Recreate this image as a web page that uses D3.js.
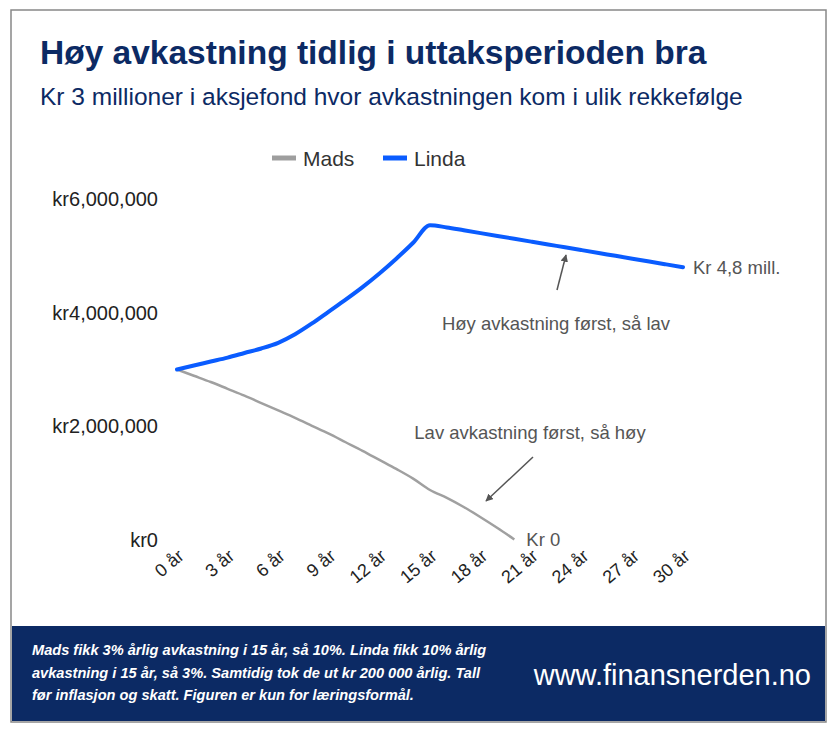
<!DOCTYPE html>
<html><head><meta charset="utf-8">
<script src="https://cdn.jsdelivr.net/npm/d3@7"></script>
<style>body{margin:0;background:#fff;font-family:Arial,"Liberation Sans",sans-serif}</style>
</head><body><div id="chart"></div>
<script>
// Data (millions kr)
const years = d3.range(0, 31);
const linda = [3.00,3.07,3.14,3.21,3.29,3.37,3.47,3.62,3.81,4.02,4.23,4.45,4.69,4.95,5.23,5.54,
  5.50,5.45,5.40,5.35,5.30,5.25,5.20,5.15,5.10,5.05,5.00,4.95,4.90,4.85,4.80];
const mads = [3.00,2.89,2.78,2.66,2.54,2.41,2.28,2.15,2.01,1.87,1.72,1.57,1.41,1.25,1.08,0.88,
  0.74,0.58,0.40,0.21,0.01];
const xTicks = d3.range(0, 31, 3);
const yTicks = [0, 2, 4, 6];
const footerLines = [
  "Mads fikk 3% årlig avkastning i 15 år, så 10%. Linda fikk 10% årlig",
  "avkastning i 15 år, så 3%. Samtidig tok de ut kr 200 000 årlig. Tall",
  "før inflasjon og skatt. Figuren er kun for læringsformål."
];

const navy = "#0c2a64";
const svg = d3.select("#chart").append("svg").attr("width", 840).attr("height", 732);

svg.append("rect").attr("x", 11).attr("y", 10).attr("width", 815).attr("height", 712)
  .attr("fill", "#fff").attr("stroke", "#888").attr("stroke-width", 1.5);

svg.append("text").attr("x", 40).attr("y", 64).attr("fill", navy)
  .style("font-size", "33.5px").style("font-weight", "bold")
  .text("Høy avkastning tidlig i uttaksperioden bra");
svg.append("text").attr("x", 40).attr("y", 105).attr("fill", navy)
  .style("font-size", "24.5px")
  .text("Kr 3 millioner i aksjefond hvor avkastningen kom i ulik rekkefølge");

// legend
const legend = [["Mads", "#9e9e9e", 272], ["Linda", "#0a5cff", 383]];
legend.forEach(([name, c, x]) => {
  svg.append("line").attr("x1", x).attr("x2", x + 24).attr("y1", 158).attr("y2", 158)
    .attr("stroke", c).attr("stroke-width", 5);
  svg.append("text").attr("x", x + 31).attr("y", 166).style("font-size", "21px")
    .attr("fill", "#333").text(name);
});

const x = d3.scaleLinear().domain([0, 30]).range([177, 683]);
const y = d3.scaleLinear().domain([0, 6]).range([540, 199]);

svg.selectAll(".ylab").data(yTicks).enter().append("text")
  .attr("x", 158).attr("y", d => y(d) + 7).attr("text-anchor", "end")
  .style("font-size", "20px").attr("fill", "#222")
  .text(d => "kr" + d3.format(",")(d * 1e6));

svg.selectAll(".xlab").data(xTicks).enter().append("text")
  .attr("transform", d => `translate(${x(d) + 8},${558}) rotate(-40)`)
  .attr("text-anchor", "end").style("font-size", "18px").attr("fill", "#222")
  .text(d => d + " år");

const line = d3.line().x((d, i) => x(years[i])).y(d => y(d)).curve(d3.curveMonotoneX);
svg.append("path").datum(mads).attr("d", line).attr("fill", "none")
  .attr("stroke", "#a0a0a0").attr("stroke-width", 2.5);
svg.append("path").datum(linda).attr("d", line).attr("fill", "none")
  .attr("stroke", "#0a5cff").attr("stroke-width", 4).attr("stroke-linecap", "round");

// annotations
svg.append("defs").append("marker").attr("id", "ah").attr("viewBox", "0 0 10 10")
  .attr("refX", 9).attr("refY", 5).attr("markerWidth", 5).attr("markerHeight", 5)
  .attr("orient", "auto").append("path").attr("d", "M0,0L10,5L0,10z").attr("fill", "#555");
svg.append("line").attr("x1", 557).attr("y1", 290).attr("x2", 566).attr("y2", 255)
  .attr("stroke", "#555").attr("stroke-width", 1.5).attr("marker-end", "url(#ah)");
svg.append("line").attr("x1", 533).attr("y1", 457).attr("x2", 486).attr("y2", 501)
  .attr("stroke", "#555").attr("stroke-width", 1.5).attr("marker-end", "url(#ah)");

const ann = [
  ["Kr 4,8 mill.", x(30) + 10, y(4.8) + 7, "start"],
  ["Kr 0", x(20) + 12, y(0) + 6, "start"],
  ["Høy avkastning først, så lav", 556, 330, "middle"],
  ["Lav avkastning først, så høy", 530, 439, "middle"]
];
ann.forEach(([t, ax, ay, anc]) => svg.append("text").attr("x", ax).attr("y", ay)
  .attr("text-anchor", anc).style("font-size", "18.5px").attr("fill", "#555").text(t));

// footer
svg.append("rect").attr("x", 12).attr("y", 626).attr("width", 813).attr("height", 95).attr("fill", navy);
svg.selectAll(".ft").data(footerLines).enter().append("text")
  .attr("x", 32).attr("y", (d, i) => 655 + i * 22.5).attr("fill", "#fff")
  .style("font-size", "14.6px").style("font-weight", "bold").style("font-style", "italic")
  .text(d => d);
svg.append("text").attr("x", 811).attr("y", 685).attr("text-anchor", "end")
  .attr("fill", "#fff").style("font-size", "29px").text("www.finansnerden.no");
</script></body></html>
